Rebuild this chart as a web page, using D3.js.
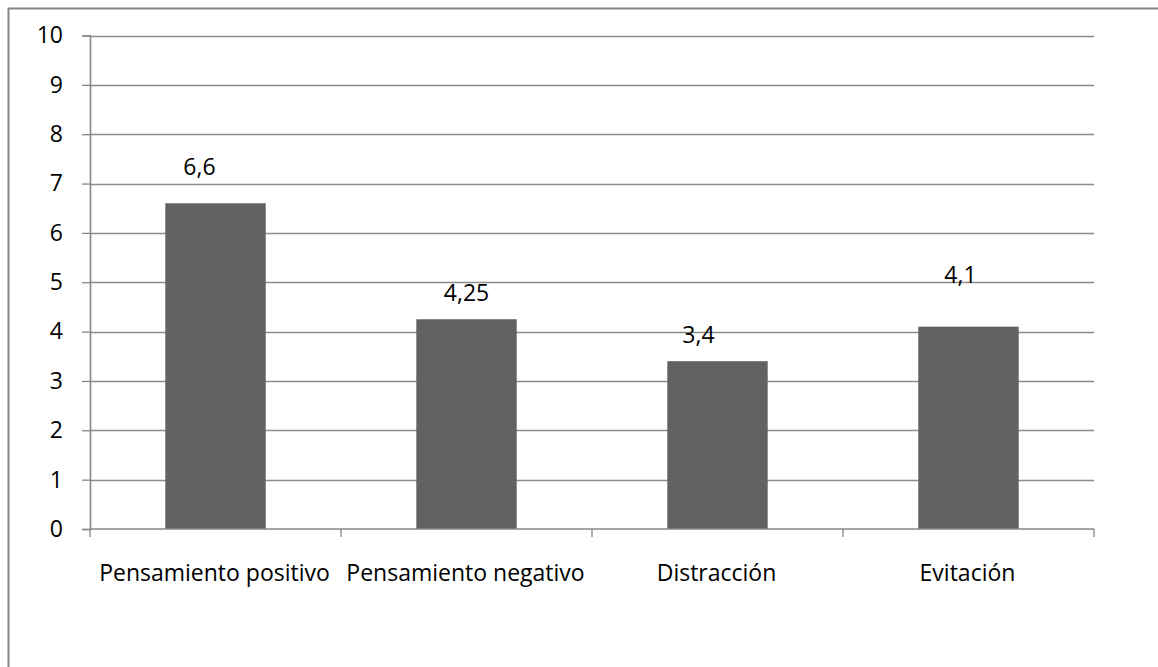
<!DOCTYPE html>
<html>
<head>
<meta charset="utf-8">
<script src="https://cdn.jsdelivr.net/npm/d3@7"></script>
<style>
  html, body { margin: 0; padding: 0; background: #fff; }
  svg { display: block; }
  text { font-family: "Open Sans", Lato, "Liberation Sans", sans-serif; fill: #000; }
</style>
</head>
<body>
<svg id="chart" width="1158" height="667"></svg>
<script>
// Puntuaciones medias por estrategia de afrontamiento
const categories = ["Pensamiento positivo", "Pensamiento negativo", "Distracción", "Evitación"];
const values = [6.6, 4.25, 3.4, 4.1];
const valueLabels = ["6,6", "4,25", "3,4", "4,1"];
const yTicks = [0, 1, 2, 3, 4, 5, 6, 7, 8, 9, 10];

// Hand-placed offsets of the value labels (px: horizontal shift, height above bar top)
const labelNudgeX = [-16, 0, -19, -8];
const labelLift = [28, 18, 18, 44];

const FONT = "23px";

const svg = d3.select("#chart");
const margin = { left: 90, right: 64, top: 35.5, bottom: 138 };
const W = 1158, H = 667;

// Outer frame
svg.append("rect")
  .attr("x", 8.5).attr("y", 8.5)
  .attr("width", W + 20).attr("height", H + 20)
  .attr("fill", "none").attr("stroke", "#878787").attr("stroke-width", 2);

const x = d3.scaleBand()
  .domain(categories)
  .range([margin.left, W - margin.right])
  .paddingInner(0.6)
  .paddingOuter(0.3);

const xOuter = d3.scaleBand()
  .domain(categories)
  .range([margin.left, W - margin.right]);

const y = d3.scaleLinear()
  .domain([0, 10])
  .range([H - margin.bottom, margin.top]);

// Horizontal gridlines
svg.append("g")
  .selectAll("line")
  .data(yTicks.filter(t => t > 0))
  .join("line")
  .attr("x1", margin.left).attr("x2", W - margin.right)
  .attr("y1", d => Math.round(y(d)) + 0.5).attr("y2", d => Math.round(y(d)) + 0.5)
  .attr("stroke", "#8c8c8c").attr("stroke-width", 1.3);

// Bars
svg.append("g")
  .selectAll("rect")
  .data(values)
  .join("rect")
  .attr("x", (d, i) => x(categories[i]))
  .attr("width", x.bandwidth())
  .attr("y", d => y(d))
  .attr("height", d => y(0) - y(d))
  .attr("fill", "#616161");

// Y axis
const yAxis = svg.append("g")
  .attr("transform", `translate(${margin.left},0)`)
  .call(d3.axisLeft(y).tickValues(yTicks).tickSize(8).tickPadding(19).tickFormat(d3.format("d")));
yAxis.select(".domain").attr("stroke", "#868686").attr("stroke-width", 1.6);
yAxis.selectAll(".tick line").attr("stroke", "#868686").attr("stroke-width", 1.3);
yAxis.selectAll(".tick text")
  .style("font-size", FONT)
  .style("font-family", "\"Open Sans\", Lato, sans-serif")
  .attr("fill", "#000");

// X axis: category boundaries as tick marks
const boundaries = d3.range(categories.length + 1).map(i => margin.left + i * xOuter.step());
svg.append("line")
  .attr("x1", margin.left).attr("x2", W - margin.right)
  .attr("y1", y(0)).attr("y2", y(0))
  .attr("stroke", "#868686").attr("stroke-width", 1.6);
svg.append("g")
  .selectAll("line")
  .data(boundaries)
  .join("line")
  .attr("x1", d => d).attr("x2", d => d)
  .attr("y1", y(0)).attr("y2", y(0) + 8)
  .attr("stroke", "#868686").attr("stroke-width", 1.3);

// Category labels
svg.append("g")
  .selectAll("text")
  .data(categories)
  .join("text")
  .attr("x", d => xOuter(d) + xOuter.bandwidth() / 2 - 1)
  .attr("y", y(0) + 52)
  .attr("text-anchor", "middle")
  .style("font-size", FONT)
  .text(d => d);

// Value labels
svg.append("g")
  .selectAll("text")
  .data(values)
  .join("text")
  .attr("x", (d, i) => x(categories[i]) + x.bandwidth() / 2 + labelNudgeX[i])
  .attr("y", (d, i) => y(d) - labelLift[i])
  .attr("text-anchor", "middle")
  .style("font-size", FONT)
  .text((d, i) => valueLabels[i]);
</script>
</body>
</html>
